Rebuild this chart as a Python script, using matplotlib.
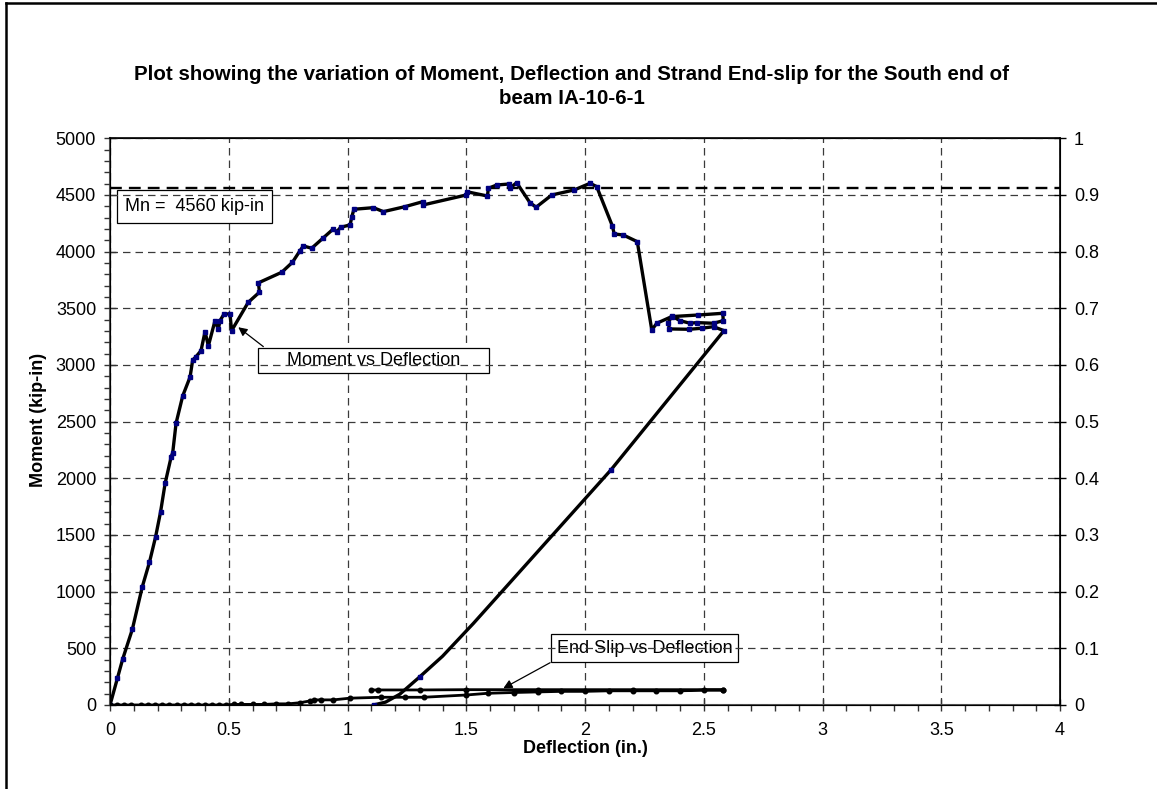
import matplotlib
matplotlib.use("Agg")
import matplotlib.pyplot as plt
from matplotlib.lines import Line2D
from matplotlib.ticker import MultipleLocator, FormatStrFormatter

plt.rcParams['font.family'] = ['Liberation Sans', 'DejaVu Sans']

# moment vs deflection (loading, then unloading to residual deflection)
defl_m = [0, 0.031, 0.053, 0.094, 0.136, 0.166, 0.192, 0.213, 0.232, 0.257,
          0.264, 0.278, 0.306, 0.337, 0.348, 0.362, 0.383, 0.400, 0.414, 0.442,
          0.456, 0.463, 0.480, 0.505, 0.512, 0.582, 0.629, 0.625, 0.723, 0.768,
          0.800, 0.814, 0.849, 0.896, 0.940, 0.955, 0.971, 1.011, 1.018, 1.027,
          1.109, 1.151, 1.242, 1.317, 1.318, 1.500, 1.502, 1.589, 1.593, 1.628,
          1.681, 1.684, 1.712, 1.768, 1.794, 1.860, 1.954, 2.021, 2.049, 2.115,
          2.123, 2.161, 2.220, 2.281, 2.302, 2.365, 2.477, 2.580, 2.582, 2.541,
          2.470, 2.442, 2.400, 2.365, 2.351, 2.355, 2.439, 2.491, 2.541, 2.585,
          2.109, 1.530, 1.400, 1.305, 1.220, 1.160, 1.110]
moment = [0, 235, 403, 668, 1044, 1259, 1485, 1706, 1956, 2186,
          2227, 2486, 2727, 2894, 3044, 3073, 3126, 3294, 3168, 3391,
          3315, 3391, 3450, 3450, 3303, 3553, 3642, 3725, 3818, 3906,
          4009, 4050, 4030, 4118, 4200, 4176, 4215, 4236, 4309, 4374,
          4388, 4353, 4397, 4441, 4412, 4500, 4529, 4491, 4559, 4588,
          4597, 4559, 4609, 4432, 4392, 4500, 4544, 4603, 4574, 4227,
          4156, 4147, 4088, 3309, 3368, 3427, 3441, 3456, 3391, 3368,
          3374, 3368, 3391, 3432, 3374, 3318, 3315, 3324, 3338, 3303,
          2074, 720, 430, 250, 95, 25, 0]
# points on the unloading branch that carry no marker in the original
unmarked = [81, 82, 84, 85]

# strand end slip vs deflection (right axis)
defl_s = [0.00, 0.03, 0.06, 0.09, 0.13, 0.16, 0.19, 0.22, 0.25, 0.28,
          0.31, 0.34, 0.37, 0.40, 0.43, 0.46, 0.49, 0.52, 0.55, 0.60,
          0.65, 0.70, 0.75, 0.80, 0.84, 0.86, 0.89, 0.94, 1.01, 1.14,
          1.24, 1.32, 1.50, 1.59, 1.70, 1.80, 1.90, 2.00, 2.10, 2.20,
          2.30, 2.40, 2.50, 2.58, 2.58, 2.20, 1.80, 1.50, 1.305, 1.13, 1.10]
slip = [0, 0, 0, 0, 0, 0, 0, 0, 0, 0,
        0, 0, 0, 0, 0, 0, 0, 0.001, 0.001, 0.001,
        0.001, 0.002, 0.002, 0.004, 0.007, 0.009, 0.009, 0.009, 0.012, 0.0136,
        0.0136, 0.0136, 0.0176, 0.0206, 0.022, 0.023, 0.024, 0.024, 0.025, 0.025,
        0.025, 0.025, 0.026, 0.026, 0.027, 0.027, 0.027, 0.027, 0.0265, 0.0265, 0.0265]

Mn = 4560

fig = plt.figure(figsize=(11.57, 7.89), dpi=100)
ax = fig.add_axes([0.0951, 0.1065, 0.8211, 0.7182])
ax2 = ax.twinx()

ax.set_xlim(0, 4)
ax.set_ylim(0, 5000)
ax2.set_ylim(0, 1)

ax.xaxis.set_major_locator(MultipleLocator(0.5))
ax.xaxis.set_minor_locator(MultipleLocator(0.1))
ax.yaxis.set_major_locator(MultipleLocator(500))
ax.yaxis.set_minor_locator(MultipleLocator(100))
ax2.yaxis.set_major_locator(MultipleLocator(0.1))
ax.xaxis.set_major_formatter(FormatStrFormatter('%g'))
ax2.yaxis.set_major_formatter(FormatStrFormatter('%g'))

ax.tick_params(which='major', direction='inout', length=8, width=1, labelsize=13, color='#333333')
ax.tick_params(which='minor', direction='out', length=4, width=1, color='#333333')
ax.tick_params(axis='y', which='major', pad=6)
ax.tick_params(axis='x', which='major', pad=8)
ax2.tick_params(which='major', direction='inout', length=8, width=1, labelsize=13, pad=6)

ax.grid(True, which='major', color='#3a3a3a', linestyle=(0, (6, 4)), linewidth=0.9)
ax.xaxis.set_zorder(0.5)
ax.yaxis.set_zorder(3.5)

for s in ['left', 'bottom']:
    ax.spines[s].set_color('#555555')
    ax.spines[s].set_linewidth(1.5)
for s in ['right', 'top']:
    ax2.spines[s].set_color('black')
    ax2.spines[s].set_linewidth(1.2)

ax.axhline(Mn, color='black', linestyle=(0, (5, 3)), linewidth=1.7, zorder=4)

marks = [i for i in range(len(defl_m)) if i not in unmarked]
ax.plot(defl_m, moment, color='black', linewidth=2.4, marker='s', markersize=3.4,
        markerfacecolor='#000080', markeredgecolor='#000080', markevery=marks, zorder=4)

ax2.plot(defl_s, slip, color='black', linewidth=2.0, marker='o', markersize=3.3,
         markerfacecolor='black', markeredgecolor='black')

def box(pad):
    return dict(boxstyle='square,pad=%g' % pad, facecolor='white', edgecolor='black', linewidth=0.9)

arrow = dict(arrowstyle='-|>', color='black', lw=0.9, mutation_scale=13, shrinkA=0, shrinkB=0)

ax.text(0.356, 4397, 'Mn =  4560 kip-in', fontsize=13, ha='center', va='center',
        bbox=box(0.45), zorder=3)

ax.text(1.11, 3042, '     Moment vs Deflection     ', fontsize=13, ha='center', va='center',
        bbox=box(0.22), zorder=3)
ax.annotate('', xy=(0.540, 3333), xytext=(0.6455, 3162), arrowprops=arrow, zorder=3)

ax.text(2.25, 500, 'End Slip vs Deflection', fontsize=13, ha='center', va='center',
        bbox=box(0.3), zorder=3)
ax.annotate('', xy=(1.656, 0.0295), xycoords=ax2.transData,
            xytext=(1.853, 373), textcoords='data', arrowprops=arrow, zorder=3)

fig.text(0.494, 0.8905,
         'Plot showing the variation of Moment, Deflection and Strand End-slip for the South end of\nbeam IA-10-6-1',
         ha='center', va='center', fontsize=14.8, fontweight='bold', linespacing=1.33)
fig.text(0.033, 0.468, 'Moment (kip-in)', rotation=90, ha='center', va='center',
         fontsize=13, fontweight='bold')
fig.text(0.5056, 0.051, 'Deflection (in.)', ha='center', va='center',
         fontsize=13, fontweight='bold')

# outer frame (left and top edges visible in the original crop)
fig.add_artist(Line2D([0.0049, 0.0049], [0, 0.9966], color='black', linewidth=1.8,
                      transform=fig.transFigure))
fig.add_artist(Line2D([0.0049, 1], [0.9966, 0.9966], color='black', linewidth=1.8,
                      transform=fig.transFigure))

fig.savefig('out.png', dpi=100)
